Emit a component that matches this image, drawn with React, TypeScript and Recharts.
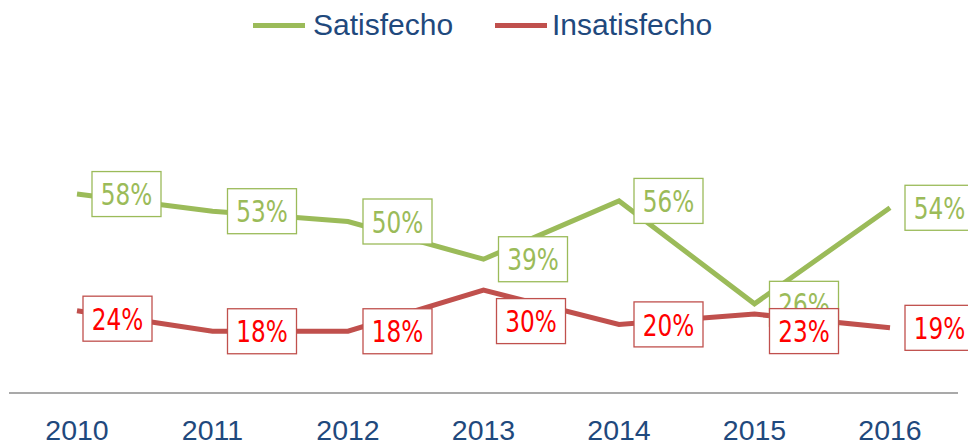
import React from 'react';
import { LineChart, Line, XAxis, YAxis, LabelList } from 'recharts';

const years = ['2010', '2011', '2012', '2013', '2014', '2015', '2016'];
const satisfecho = [58, 53, 50, 39, 56, 26, 54];
const insatisfecho = [24, 18, 18, 30, 20, 23, 19];

// label nudges (Excel moved a few boxes to avoid overlaps)
const redNudgeX = [-9, 0, 0, -2, 0, 0, 0];
const redNudgeY = [8, 0, 0, 31, 0, 17, 0];

const GREEN = '#9BBB59';
const RED = '#C0504D';
const AXIS_TEXT = '#1F497D';

const data = years.map((year, i) => ({
  year,
  satisfecho: satisfecho[i],
  insatisfecho: insatisfecho[i],
}));

const makeLabel =
  (border: string, color: string, nx?: number[], ny?: number[]) =>
  (props: any) => {
    const { x, y, value, index } = props;
    const dx = nx ? nx[index] : 0;
    const dy = ny ? ny[index] : 0;
    const w = 69;
    const h = 45;
    const left = x + 15 + dx;
    const top = y - h / 2 + dy;
    return (
      <g>
        <rect x={left} y={top} width={w} height={h} fill="#fff" stroke={border} strokeWidth={1.3} />
        <g transform={`translate(${left + w / 2}, ${top + h / 2 + 1}) scale(0.86, 1)`}>
          <text
            x={0}
            y={0}
            textAnchor="middle"
            dominantBaseline="central"
            fill={color}
            fontSize={30}
            fontFamily="'Liberation Sans Narrow', 'DejaVu Sans Condensed', sans-serif"
          >
            {value}%
          </text>
        </g>
      </g>
    );
  };

const YearTick = (props: any) => {
  const { x, y, payload } = props;
  return (
    <text
      x={x}
      y={y + 47}
      textAnchor="middle"
      fill={AXIS_TEXT}
      fontSize={28.5}
      fontFamily="'Liberation Sans', sans-serif"
    >
      {payload.value}
    </text>
  );
};

function LegendItem({ color, label, left, textLeft }: { color: string; label: string; left: number; textLeft: number }) {
  return (
    <>
      <div style={{ position: 'absolute', left, top: 23, width: 52, height: 5, background: color }} />
      <div
        style={{
          position: 'absolute',
          left: textLeft,
          top: 7,
          fontSize: 30,
          lineHeight: '36px',
          color: AXIS_TEXT,
          fontFamily: "'Liberation Sans', sans-serif",
          whiteSpace: 'nowrap',
        }}
      >
        {label}
      </div>
    </>
  );
}

export default function App() {
  return (
    <div style={{ position: 'absolute', left: 0, top: 0, width: 968, height: 446, background: '#fff', overflow: 'hidden' }}>
      <LegendItem color={GREEN} label="Satisfecho" left={253} textLeft={313} />
      <LegendItem color={RED} label="Insatisfecho" left={495} textLeft={552} />
      <div style={{ position: 'absolute', left: 0, top: 0 }}>
        <LineChart width={968} height={446} data={data} margin={{ top: 50, right: 10, bottom: 0, left: 9 }}>
          <XAxis
            dataKey="year"
            height={53}
            padding={{ left: 68, right: 68 }}
            axisLine={{ stroke: '#8C8C8C', strokeWidth: 1.5 }}
            tickLine={false}
            tickSize={0}
            tickMargin={0}
            tick={<YearTick />}
            interval={0}
          />
          <YAxis hide domain={[0, 100]} />
          <Line
            dataKey="satisfecho"
            stroke={GREEN}
            strokeWidth={5}
            dot={false}
            isAnimationActive={false}
          >
            <LabelList dataKey="satisfecho" content={makeLabel(GREEN, GREEN)} />
          </Line>
          <Line
            dataKey="insatisfecho"
            stroke={RED}
            strokeWidth={5}
            dot={false}
            isAnimationActive={false}
          >
            <LabelList dataKey="insatisfecho" content={makeLabel(RED, '#FF0000', redNudgeX, redNudgeY)} />
          </Line>
        </LineChart>
      </div>
    </div>
  );
}
